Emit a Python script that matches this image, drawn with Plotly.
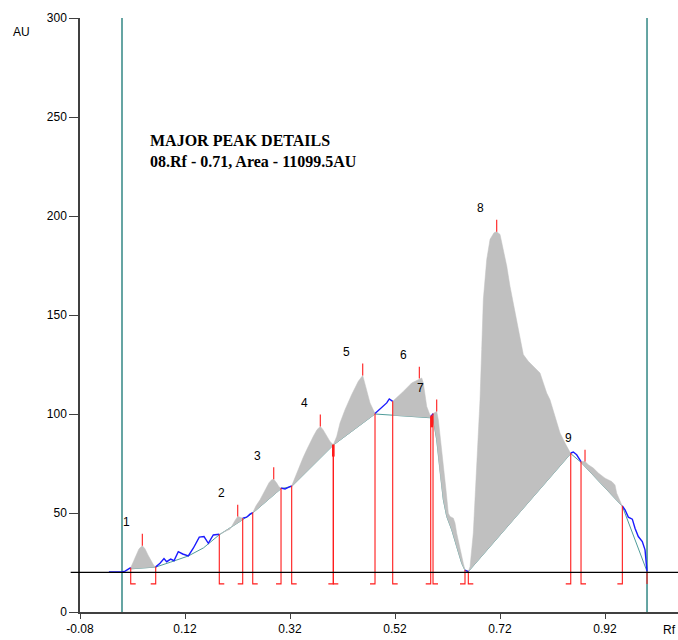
import numpy as np
import plotly.graph_objects as go

# ---- densitometric scan (Rf vs AU) ----
rf_sig = [-0.025, 0.000, 0.006, 0.0127, 0.0166, 0.0210, 0.0267, 0.0324, 0.0387, 0.0438,
          0.0495, 0.0552, 0.0610, 0.0642, 0.0724, 0.0800, 0.0851, 0.0928, 0.0990, 0.1072,
          0.1156, 0.1263, 0.1358, 0.1472, 0.1562, 0.1644, 0.1739, 0.1853, 0.1962, 0.2057,
          0.2152, 0.2204, 0.2248, 0.2299, 0.2375, 0.2438, 0.2490, 0.2552, 0.2629, 0.2691,
          0.2755, 0.2800, 0.2851, 0.2890, 0.2947, 0.2990, 0.3029, 0.3105, 0.3168, 0.3232,
          0.3314, 0.3390, 0.3448, 0.3518, 0.3581, 0.3644, 0.3714, 0.3777, 0.3829, 0.3867,
          0.3962, 0.4025, 0.4090, 0.4152, 0.4248, 0.4375, 0.4501, 0.4585, 0.4661, 0.4724,
          0.4819, 0.4882, 0.4977, 0.5042, 0.5091, 0.5124, 0.5156, 0.5232, 0.5358, 0.5518,
          0.5663, 0.5709, 0.5739, 0.5804, 0.5880, 0.5924, 0.5994, 0.6025, 0.6070, 0.6120,
          0.6171, 0.6215, 0.6248, 0.6311, 0.6343, 0.6375, 0.6438, 0.6501, 0.6533, 0.6596,
          0.6629, 0.6691, 0.6756, 0.6819, 0.6851, 0.6882, 0.6947, 0.7010, 0.7086, 0.7137,
          0.7200, 0.7263, 0.7328, 0.7390, 0.7453, 0.7518, 0.7581, 0.7644, 0.7739, 0.7867,
          0.7962, 0.8025, 0.8089, 0.8152, 0.8248, 0.8343, 0.8438, 0.8547, 0.8596, 0.8660,
          0.8743, 0.8819, 0.8882, 0.8977, 0.9072, 0.9200, 0.9328, 0.9390, 0.9423, 0.9486,
          0.9530, 0.9581, 0.9644, 0.9720, 0.9771, 0.9834, 0.9910, 0.9962, 1.0000]
au_sig = [20.2, 20.2, 20.6, 22.0, 22.4, 25.3, 28.8, 31.9, 33.5, 31.9,
          28.8, 25.8, 23.3, 22.8, 24.6, 27.0, 25.4, 26.7, 25.9, 30.5,
          29.3, 28.3, 32.2, 37.8, 38.1, 34.7, 38.9, 39.3, 40.5, 41.8,
          46.2, 48.2, 47.9, 47.4, 47.9, 49.4, 50.2, 53.6, 56.7, 59.7,
          62.6, 65.3, 66.8, 67.1, 65.1, 63.2, 62.6, 62.1, 62.9, 63.7,
          69.3, 73.5, 77.9, 81.9, 85.5, 88.7, 92.1, 93.7, 92.1, 90.4,
          86.1, 84.5, 88.7, 95.4, 102.2, 109.8, 116.5, 119.5, 112.3, 105.6,
          100.2, 101.8, 103.8, 105.6, 107.6, 107.2, 106.4, 108.1, 111.4, 115.7,
          117.9, 118.2, 115.7, 103.8, 98.5, 100.2, 101.3, 97.1, 87.0, 75.2,
          61.7, 49.9, 48.2, 47.4, 44.9, 39.8, 31.4, 24.6, 21.2, 20.4,
          22.9, 39.8, 73.5, 107.2, 132.5, 157.8, 178.0, 188.2, 191.6, 192.1,
          190.7, 183.1, 174.7, 164.5, 156.1, 147.7, 137.6, 130.0, 126.6, 123.3,
          120.7, 115.7, 110.6, 107.2, 98.8, 90.4, 85.3, 80.3, 80.8, 79.4,
          76.0, 76.0, 74.4, 72.7, 70.2, 67.6, 65.9, 64.2, 60.0, 55.8,
          53.6, 51.6, 47.9, 46.9, 42.3, 38.1, 35.6, 31.4, 20.5]

# baseline under the peaks
rf_base = [0.0166, 0.0642, 0.0928, 0.1263, 0.1553, 0.1853, 0.2299, 0.2490, 0.3029, 0.3232,
           0.4025, 0.4819, 0.5156, 0.5880, 0.5924, 0.5994, 0.6057, 0.6120, 0.6185, 0.6280,
           0.6375, 0.6470, 0.6533, 0.6596, 0.8547, 0.8743, 0.9530, 1.0000]
au_base = [21.8, 22.7, 25.2, 28.3, 32.4, 39.0, 46.6, 50.0, 62.3, 63.4,
           84.3, 100.0, 99.4, 98.2, 98.0, 87.0, 70.2, 56.7, 48.2, 41.5,
           33.0, 24.6, 21.0, 20.4, 80.0, 75.6, 53.4, 20.5]

# integrated peaks
peak_no = ["1", "2", "3", "4", "5", "6", "7", "8", "9"]
peak_start = [0.0166, 0.1853, 0.2490, 0.3232, 0.4025, 0.5156, 0.5924, 0.6596, 0.8743]
peak_end = [0.0642, 0.2299, 0.3029, 0.4025, 0.4819, 0.5880, 0.6533, 0.8547, 0.9530]
peak_max = [0.0387, 0.2204, 0.2890, 0.3777, 0.4585, 0.5663, 0.5994, 0.7137, 0.8819]
valley_marks = [0.4025, 0.5900]
scan_end = 1.0

front_lo = 0.0
front_hi = 1.0
solvent_level = 20.0
bracket_level = 14.2
foot = 0.0095

x_ticks = [-0.08, 0.12, 0.32, 0.52, 0.72, 0.92]
x_labels = ["-0.08", "0.12", "0.32", "0.52", "0.72", "0.92"]
y_ticks = [0, 50, 100, 150, 200, 250, 300]

title_1 = "MAJOR PEAK DETAILS"
title_2 = "08.Rf - 0.71, Area - 11099.5AU"

rf_sig_a = np.array(rf_sig)
au_sig_a = np.array(au_sig)
rf_base_a = np.array(rf_base)
au_base_a = np.array(au_base)


def sig(x):
    return float(np.interp(x, rf_sig_a, au_sig_a))


def base(x):
    return float(np.interp(x, rf_base_a, au_base_a))


def span(xarr, a, b):
    inner = [v for v in xarr if a < v < b]
    return [a] + inner + [b]


fig = go.Figure()

# baseline (teal)
fig.add_trace(go.Scatter(x=rf_base, y=au_base, mode="lines",
                         line=dict(color="#4f9c9a", width=1), hoverinfo="skip"))

# grey peak areas between scan and baseline
for a, b in zip(peak_start, peak_end):
    xs_top = span(rf_sig, a, b)
    ys_top = [sig(v) for v in xs_top]
    xs_bot = span(rf_base, a, b)[::-1]
    ys_bot = [base(v) for v in xs_bot]
    fig.add_trace(go.Scatter(x=xs_top + xs_bot, y=ys_top + ys_bot, mode="lines",
                             fill="toself", fillcolor="#c0c0c0",
                             line=dict(color="#c0c0c0", width=0.5), hoverinfo="skip"))

# scan outside the integrated peaks (blue)
gaps = []
lo = rf_sig[0]
for a, b in zip(peak_start, peak_end):
    if a > lo:
        gaps.append((lo, a))
    lo = max(lo, b)
if rf_sig[-1] > lo:
    gaps.append((lo, rf_sig[-1]))
bx, by = [], []
for a, b in gaps:
    xs = span(rf_sig, a, b)
    bx += xs + [None]
    by += [sig(v) for v in xs] + [None]
fig.add_trace(go.Scatter(x=bx, y=by, mode="lines",
                         line=dict(color="#1a1aff", width=1.4), hoverinfo="skip"))

# solvent line
fig.add_shape(type="line", xref="paper", yref="paper",
              x0=-0.0156, x1=1.0, y0=solvent_level / 300, y1=solvent_level / 300,
              line=dict(color="black", width=1.2), layer="above")

# peak boundary brackets
rx, ry = [], []
for a in peak_start:
    rx += [a, a, a + foot, None]
    ry += [sig(a), bracket_level, bracket_level, None]
for b in peak_end:
    rx += [b, b, b - foot, None]
    ry += [sig(b), bracket_level, bracket_level, None]
rx += [scan_end, scan_end, None]
ry += [sig(scan_end), bracket_level, None]
# peak apex ticks
for m in peak_max:
    rx += [m, m, None]
    ry += [sig(m), sig(m) + 6, None]
fig.add_trace(go.Scatter(x=rx, y=ry, mode="lines",
                         line=dict(color="#ff1a1a", width=1.1), hoverinfo="skip"))

vx, vy = [], []
for v in valley_marks:
    vx += [v, v, None]
    vy += [sig(v), sig(v) - 6, None]
fig.add_trace(go.Scatter(x=vx, y=vy, mode="lines",
                         line=dict(color="#ff1a1a", width=2.6), hoverinfo="skip"))

# peak numbers
for name, m in zip(peak_no, peak_max):
    fig.add_annotation(x=m - 0.031, y=sig(m) + 11.8, text=name, showarrow=False,
                       font=dict(family="Liberation Sans", size=12, color="black"))

# origin and solvent-front lines
for xf in (front_lo, front_hi):
    fig.add_shape(type="line", xref="x", yref="y", x0=xf, x1=xf, y0=0, y1=300,
                  line=dict(color="#3f8f8c", width=1.6), layer="below")

# peak details block
fig.add_annotation(x=0.049, y=233.0,
                   text="<b>" + title_1 + "</b><br><b>" + title_2 + "</b>",
                   showarrow=False, xanchor="left", yanchor="middle", align="left",
                   font=dict(family="Liberation Serif", size=16, color="black"))

fig.add_annotation(xref="paper", yref="paper", x=-0.0975, y=0.9756, text="AU",
                   showarrow=False, xanchor="center", yanchor="middle",
                   font=dict(family="Liberation Sans", size=12, color="black"))
fig.add_annotation(xref="paper", yref="paper", x=1.0, y=-0.0455, text="Rf",
                   showarrow=False, xanchor="right", yanchor="bottom",
                   font=dict(family="Liberation Sans", size=12, color="black"))

fig.update_layout(
    width=678, height=640, autosize=False,
    margin=dict(l=80, r=0, t=18, b=28, pad=0),
    paper_bgcolor="white", plot_bgcolor="white",
    showlegend=False,
    xaxis=dict(range=[-0.08, 1.059], showgrid=False, zeroline=False,
               showline=True, linecolor="#404040", linewidth=1.5,
               ticks="outside", ticklen=5, tickcolor="#404040", tickwidth=1,
               tickvals=x_ticks, ticktext=x_labels,
               tickfont=dict(family="Liberation Sans", size=12, color="black")),
    yaxis=dict(range=[0, 300], showgrid=False, zeroline=False,
               showline=True, linecolor="#404040", linewidth=1.5,
               ticks="outside", ticklen=9, tickcolor="#404040", tickwidth=1,
               tickvals=y_ticks,
               tickfont=dict(family="Liberation Sans", size=12, color="black")),
)

fig.write_html("out.html")
